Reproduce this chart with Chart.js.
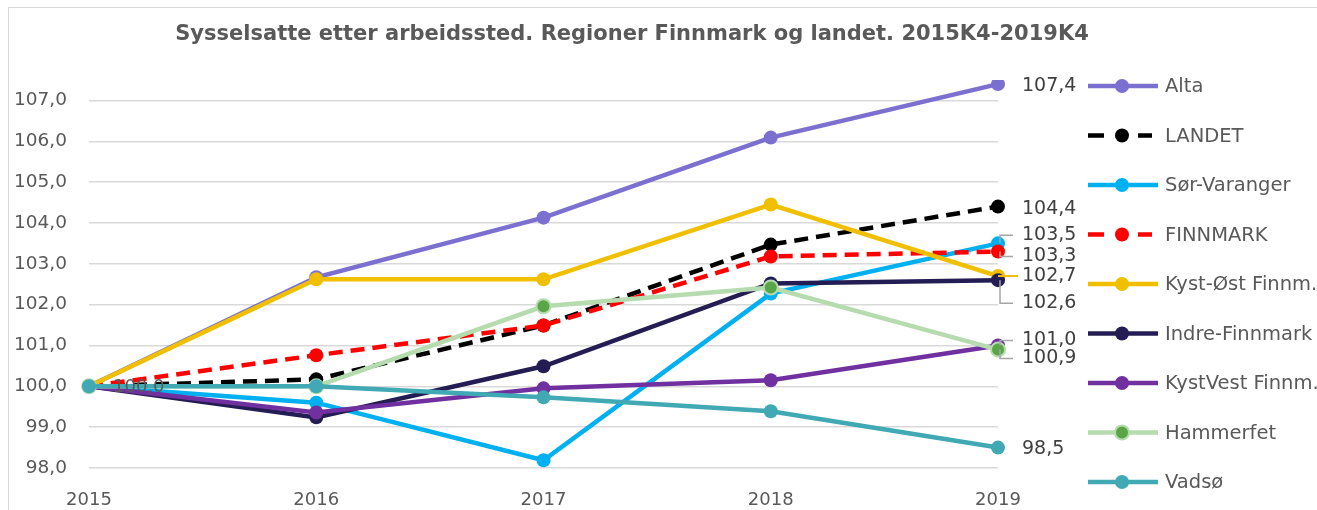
<!DOCTYPE html>
<html lang="no">
<head>
    <meta charset="UTF-8"/>
    <title>Sysselsatte etter arbeidssted</title>
    <script src="https://cdn.jsdelivr.net/npm/chart.js"></script>
    <style>
        html, body {
            margin: 0;
            padding: 0;
            background: #fff;
            width: 1317px;
            height: 510px;
            overflow: hidden;
        }
        .frame {
            position: absolute;
            left: 8px;
            top: 7px;
            width: 1309px;
            height: 503px;
            border-left: 1px solid #d9d9d9;
            border-top: 1px solid #d9d9d9;
        }
        .chart-box {
            position: absolute;
            left: 0;
            top: 0;
            width: 1317px;
            height: 510px;
        }
    </style>
</head>
<body>
<div class="frame"></div>
<div class="chart-box">
    <canvas id="jobsChart"></canvas>
</div>

<script>
    const years = ['2015', '2016', '2017', '2018', '2019'];
    const yTicks = [98, 99, 100, 101, 102, 103, 104, 105, 106, 107];

    const alta = [100, 102.67, 104.13, 106.09, 107.4];
    const landet = [100, 100.17, 101.49, 103.47, 104.4];
    const sorVaranger = [100, 99.6, 98.19, 102.27, 103.5];
    const finnmark = [100, 100.76, 101.49, 103.18, 103.3];
    const kystOst = [100, 102.62, 102.62, 104.45, 102.7];
    const indreFinnmark = [100, 99.24, 100.49, 102.52, 102.6];
    const kystVest = [100, 99.36, 99.95, 100.15, 101.0];
    const hammerfest = [100, 100, 101.96, 102.42, 100.9];
    const vadso = [100, 100, 99.73, 99.39, 98.5];

    const seriesNames = ['Alta', 'LANDET', 'Sør-Varanger', 'FINNMARK', 'Kyst-Øst Finnm.',
        'Indre-Finnmark', 'KystVest Finnm.', 'Hammerfet', 'Vadsø'];
    const seriesData = [alta, landet, sorVaranger, finnmark, kystOst,
        indreFinnmark, kystVest, hammerfest, vadso];

    // styling per series
    const lineColors = ['#7b6fd0', '#000000', '#00b0f0', '#ff0000', '#f0c000',
        '#241d54', '#7030a0', '#b5dbae', '#41a9b4'];
    const pointColors = ['#7b6fd0', '#000000', '#00b0f0', '#ff0000', '#f0c000',
        '#241d54', '#7030a0', '#5aa548', '#41a9b4'];
    const dashed = [false, true, false, true, false, false, false, false, false];
    // vertical shift of the end labels (px) and leader line type
    const labelShift = [2, 2, -8, 5, 0, 23, -5, 9, 1];
    const leaderType = ['none', 'none', 'gray', 'gray', 'own', 'gray', 'gray', 'gray', 'none'];

    const fontFamily = '"DejaVu Sans", sans-serif';
    const textGray = '#595959';
    const labelGray = '#404040';

    const fmt = v => v.toFixed(1).replace('.', ',');

    const datasets = seriesNames.map((name, i) => ({
        label: name,
        data: seriesData[i],
        borderColor: lineColors[i],
        backgroundColor: pointColors[i],
        pointBackgroundColor: pointColors[i],
        pointBorderColor: lineColors[i],
        pointBorderWidth: i === 7 ? 2 : 0,
        pointRadius: 7,
        pointHoverRadius: 7,
        borderWidth: 4.5,
        borderDash: dashed[i] ? [14, 8] : [],
        tension: 0,
        fill: false,
        order: seriesNames.length - 1 - i
    }));

    const overlayPlugin = {
        id: 'overlay',
        afterDatasetsDraw(chart) {
            const ctx = chart.ctx;
            const xs = chart.scales.x;
            const ys = chart.scales.y;
            const last = years.length - 1;
            ctx.save();

            // leader lines
            seriesData.forEach((arr, i) => {
                const px = xs.getPixelForValue(last);
                const py = ys.getPixelForValue(arr[last]);
                const ly = py + labelShift[i];
                if (leaderType[i] === 'gray') {
                    ctx.strokeStyle = '#a6a6a6';
                    ctx.lineWidth = 1.5;
                    ctx.setLineDash([]);
                    ctx.beginPath();
                    ctx.moveTo(px + 2, py);
                    ctx.lineTo(px + 2, ly);
                    ctx.lineTo(px + 15, ly);
                    ctx.stroke();
                } else if (leaderType[i] === 'own') {
                    ctx.strokeStyle = lineColors[i];
                    ctx.lineWidth = 2;
                    ctx.setLineDash([]);
                    ctx.beginPath();
                    ctx.moveTo(px, py);
                    ctx.lineTo(px + 20, py);
                    ctx.stroke();
                }
            });

            // end labels
            ctx.font = '19px ' + fontFamily;
            ctx.fillStyle = labelGray;
            ctx.textAlign = 'left';
            ctx.textBaseline = 'middle';
            seriesData.forEach((arr, i) => {
                const px = xs.getPixelForValue(last);
                const py = ys.getPixelForValue(arr[last]);
                ctx.fillText(fmt(arr[last]), px + 24, py + labelShift[i]);
            });

            // start label
            ctx.font = '18px ' + fontFamily;
            ctx.fillStyle = textGray;
            ctx.fillText(fmt(vadso[0]), xs.getPixelForValue(0) + 24, ys.getPixelForValue(vadso[0]) + 1);

            // legend
            const legX = 1088, legTop = 86, legStep = 49.5;
            seriesNames.forEach((name, i) => {
                const y = legTop + i * legStep;
                ctx.strokeStyle = lineColors[i];
                ctx.lineWidth = 4.5;
                ctx.setLineDash([]);
                ctx.beginPath();
                if (dashed[i]) {
                    ctx.moveTo(legX, y); ctx.lineTo(legX + 16, y);
                    ctx.moveTo(legX + 30, y); ctx.lineTo(legX + 40, y);
                    ctx.moveTo(legX + 50, y); ctx.lineTo(legX + 64, y);
                } else {
                    ctx.moveTo(legX, y); ctx.lineTo(legX + 70, y);
                }
                ctx.stroke();
                ctx.beginPath();
                ctx.arc(legX + 34, y, 7, 0, Math.PI * 2);
                ctx.fillStyle = pointColors[i];
                ctx.fill();
                if (i === 7) {
                    ctx.lineWidth = 2;
                    ctx.strokeStyle = lineColors[i];
                    ctx.stroke();
                }
                ctx.font = '19.5px ' + fontFamily;
                ctx.fillStyle = textGray;
                ctx.fillText(name, legX + 77, y + 1);
            });

            // title
            ctx.font = 'bold 21px ' + fontFamily;
            ctx.fillStyle = textGray;
            ctx.textAlign = 'center';
            ctx.fillText('Sysselsatte etter arbeidssted. Regioner Finnmark og landet. 2015K4-2019K4', 632, 35);

            ctx.restore();
        }
    };

    const ctx = document.getElementById('jobsChart').getContext('2d');
    new Chart(ctx, {
        type: 'line',
        data: { labels: years, datasets: datasets },
        options: {
            responsive: true,
            maintainAspectRatio: false,
            animation: false,
            layout: { padding: { top: 80, right: 319, left: 0, bottom: 0 } },
            plugins: {
                legend: { display: false },
                title: { display: false },
                tooltip: { enabled: false }
            },
            scales: {
                x: {
                    offset: false,
                    grid: { display: false, drawTicks: false },
                    border: { display: false },
                    ticks: {
                        color: textGray,
                        font: { family: fontFamily, size: 18 },
                        padding: 22,
                        maxRotation: 0
                    },
                    afterFit(scale) { scale.height = 42; }
                },
                y: {
                    min: 98,
                    max: 107.5,
                    grid: { color: '#d9d9d9', lineWidth: 1.5, drawTicks: false },
                    border: { display: false },
                    afterBuildTicks(scale) {
                        scale.ticks = yTicks.map(v => ({ value: v }));
                    },
                    ticks: {
                        color: textGray,
                        font: { family: fontFamily, size: 18.5 },
                        padding: 22,
                        callback: v => fmt(v)
                    },
                    afterFit(scale) { scale.width = 89; }
                }
            }
        },
        plugins: [overlayPlugin]
    });
</script>
</body>
</html>
